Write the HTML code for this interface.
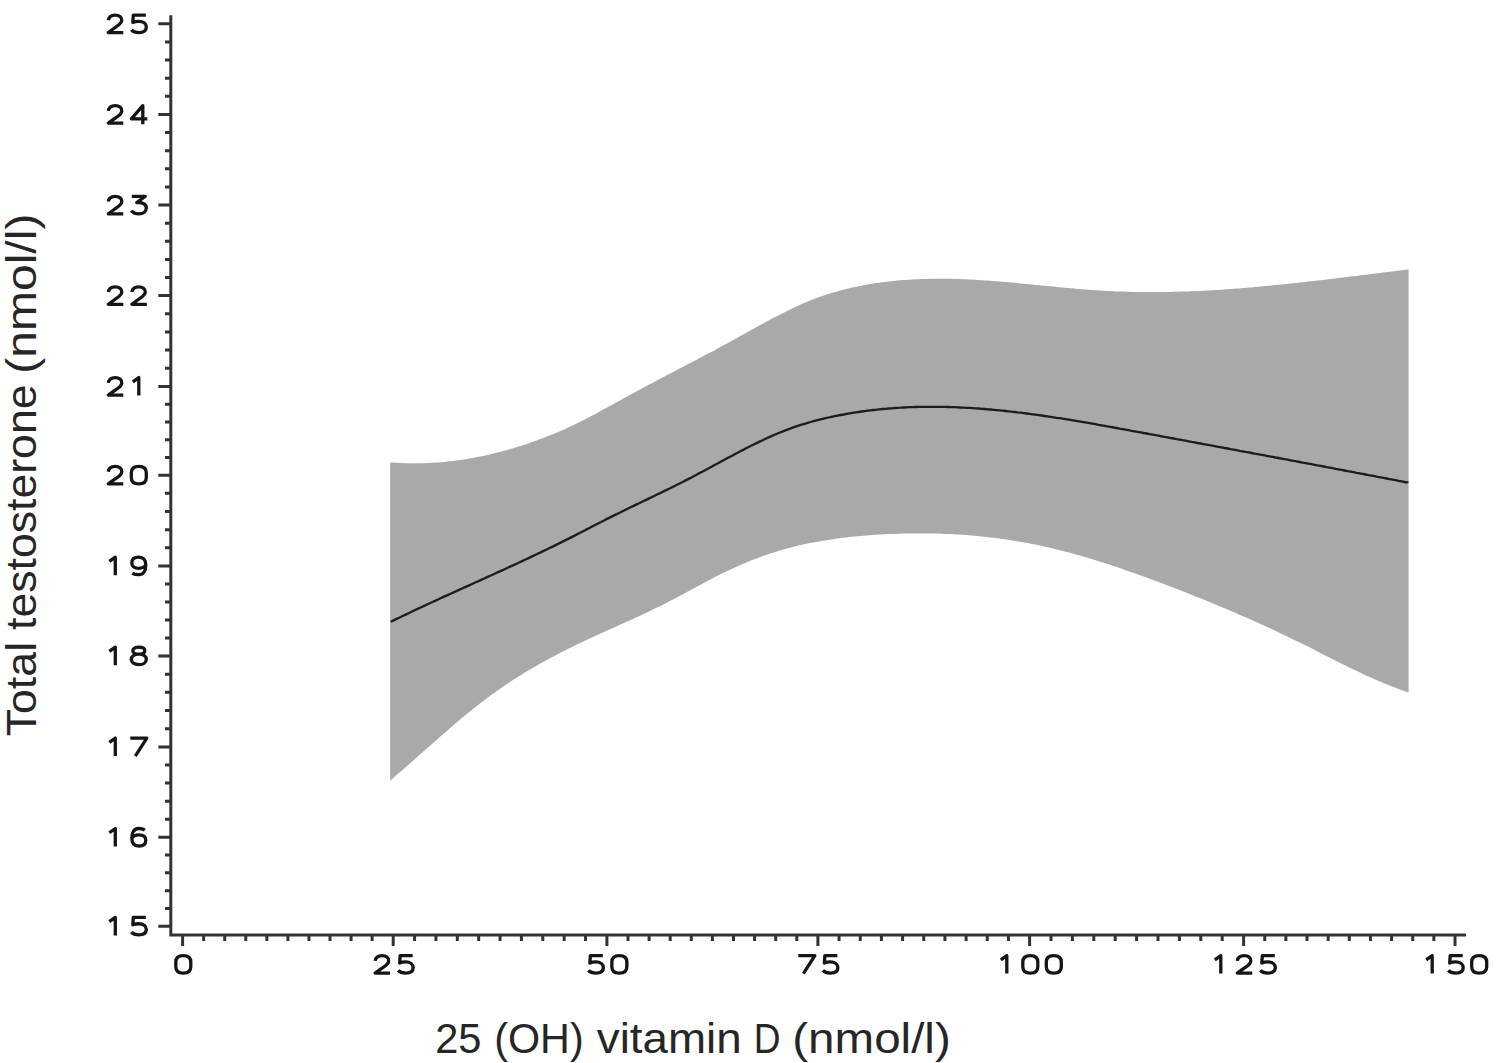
<!DOCTYPE html>
<html><head><meta charset="utf-8"><style>
html,body{margin:0;padding:0;background:#fff;overflow:hidden;}
svg{display:block;}
.lab{font-family:"Liberation Sans",sans-serif;font-size:42.5px;fill:#262626;}
</style></head><body>
<svg width="1503" height="1063" viewBox="0 0 1503 1063">
<rect width="1503" height="1063" fill="#fff"/>
<g>
<path d="M390.2,462.4 L393.2,462.6 L396.2,462.8 L399.2,463.0 L402.2,463.1 L405.2,463.2 L408.2,463.3 L411.2,463.3 L414.2,463.3 L417.2,463.3 L420.2,463.3 L423.2,463.2 L426.2,463.1 L429.2,463.0 L432.2,462.8 L435.2,462.6 L438.2,462.4 L441.2,462.2 L444.2,461.9 L447.2,461.6 L450.2,461.3 L453.2,460.9 L456.2,460.5 L459.2,460.1 L462.2,459.7 L465.2,459.2 L468.2,458.7 L471.2,458.2 L474.2,457.7 L477.2,457.1 L480.2,456.5 L483.2,455.9 L486.2,455.2 L489.2,454.5 L492.2,453.8 L495.2,453.1 L498.2,452.3 L501.2,451.6 L504.2,450.7 L507.2,449.9 L510.2,449.1 L513.2,448.2 L516.2,447.3 L519.2,446.3 L522.2,445.4 L525.2,444.4 L528.2,443.4 L531.2,442.3 L534.2,441.3 L537.2,440.2 L540.2,439.1 L543.2,438.0 L546.2,436.8 L549.2,435.6 L552.2,434.4 L555.2,433.2 L558.2,431.9 L561.2,430.7 L564.2,429.4 L567.2,428.0 L570.2,426.6 L573.2,425.2 L576.2,423.8 L579.2,422.3 L582.2,420.8 L585.2,419.3 L588.2,417.7 L591.2,416.1 L594.2,414.5 L597.2,412.9 L600.2,411.3 L603.2,409.6 L606.2,408.0 L609.2,406.3 L612.2,404.7 L615.2,403.0 L618.2,401.4 L621.2,399.7 L624.2,398.1 L627.2,396.4 L630.2,394.8 L633.2,393.2 L636.2,391.6 L639.2,389.9 L642.2,388.3 L645.2,386.7 L648.2,385.1 L651.2,383.5 L654.2,381.9 L657.2,380.3 L660.2,378.7 L663.2,377.2 L666.2,375.6 L669.2,374.0 L672.2,372.4 L675.2,370.9 L678.2,369.3 L681.2,367.7 L684.2,366.2 L687.2,364.6 L690.2,363.0 L693.2,361.5 L696.2,359.9 L699.2,358.3 L702.2,356.7 L705.2,355.1 L708.2,353.6 L711.2,352.0 L714.2,350.4 L717.2,348.7 L720.2,347.1 L723.2,345.5 L726.2,343.9 L729.2,342.2 L732.2,340.6 L735.2,338.9 L738.2,337.3 L741.2,335.6 L744.2,333.9 L747.2,332.3 L750.2,330.6 L753.2,328.9 L756.2,327.3 L759.2,325.6 L762.2,324.0 L765.2,322.3 L768.2,320.7 L771.2,319.1 L774.2,317.5 L777.2,315.9 L780.2,314.4 L783.2,312.9 L786.2,311.4 L789.2,309.9 L792.2,308.5 L795.2,307.0 L798.2,305.7 L801.2,304.3 L804.2,303.0 L807.2,301.7 L810.2,300.5 L813.2,299.3 L816.2,298.2 L819.2,297.1 L822.2,296.0 L825.2,295.0 L828.2,294.0 L831.2,293.1 L834.2,292.2 L837.2,291.4 L840.2,290.5 L843.2,289.7 L846.2,289.0 L849.2,288.3 L852.2,287.6 L855.2,286.9 L858.2,286.3 L861.2,285.7 L864.2,285.1 L867.2,284.6 L870.2,284.1 L873.2,283.6 L876.2,283.1 L879.2,282.7 L882.2,282.3 L885.2,281.9 L888.2,281.5 L891.2,281.2 L894.2,280.9 L897.2,280.6 L900.2,280.3 L903.2,280.1 L906.2,279.9 L909.2,279.7 L912.2,279.5 L915.2,279.3 L918.2,279.2 L921.2,279.0 L924.2,278.9 L927.2,278.9 L930.2,278.8 L933.2,278.7 L936.2,278.7 L939.2,278.7 L942.2,278.7 L945.2,278.7 L948.2,278.8 L951.2,278.8 L954.2,278.9 L957.2,279.0 L960.2,279.1 L963.2,279.2 L966.2,279.3 L969.2,279.5 L972.2,279.6 L975.2,279.8 L978.2,280.0 L981.2,280.2 L984.2,280.4 L987.2,280.6 L990.2,280.8 L993.2,281.0 L996.2,281.3 L999.2,281.5 L1002.2,281.7 L1005.2,282.0 L1008.2,282.3 L1011.2,282.5 L1014.2,282.8 L1017.2,283.1 L1020.2,283.4 L1023.2,283.7 L1026.2,284.0 L1029.2,284.3 L1032.2,284.6 L1035.2,284.9 L1038.2,285.2 L1041.2,285.5 L1044.2,285.8 L1047.2,286.1 L1050.2,286.3 L1053.2,286.6 L1056.2,286.9 L1059.2,287.2 L1062.2,287.5 L1065.2,287.8 L1068.2,288.1 L1071.2,288.3 L1074.2,288.6 L1077.2,288.9 L1080.2,289.1 L1083.2,289.3 L1086.2,289.6 L1089.2,289.8 L1092.2,290.0 L1095.2,290.2 L1098.2,290.4 L1101.2,290.6 L1104.2,290.8 L1107.2,291.0 L1110.2,291.1 L1113.2,291.2 L1116.2,291.4 L1119.2,291.5 L1122.2,291.6 L1125.2,291.7 L1128.2,291.8 L1131.2,291.9 L1134.2,291.9 L1137.2,292.0 L1140.2,292.0 L1143.2,292.0 L1146.2,292.1 L1149.2,292.1 L1152.2,292.1 L1155.2,292.1 L1158.2,292.1 L1161.2,292.0 L1164.2,292.0 L1167.2,291.9 L1170.2,291.9 L1173.2,291.8 L1176.2,291.8 L1179.2,291.7 L1182.2,291.6 L1185.2,291.5 L1188.2,291.4 L1191.2,291.3 L1194.2,291.1 L1197.2,291.0 L1200.2,290.9 L1203.2,290.7 L1206.2,290.6 L1209.2,290.4 L1212.2,290.2 L1215.2,290.0 L1218.2,289.9 L1221.2,289.7 L1224.2,289.5 L1227.2,289.3 L1230.2,289.1 L1233.2,288.8 L1236.2,288.6 L1239.2,288.4 L1242.2,288.1 L1245.2,287.9 L1248.2,287.6 L1251.2,287.4 L1254.2,287.1 L1257.2,286.9 L1260.2,286.6 L1263.2,286.3 L1266.2,286.0 L1269.2,285.7 L1272.2,285.4 L1275.2,285.1 L1278.2,284.8 L1281.2,284.5 L1284.2,284.2 L1287.2,283.9 L1290.2,283.6 L1293.2,283.3 L1296.2,282.9 L1299.2,282.6 L1302.2,282.3 L1305.2,281.9 L1308.2,281.6 L1311.2,281.3 L1314.2,280.9 L1317.2,280.6 L1320.2,280.2 L1323.2,279.9 L1326.2,279.5 L1329.2,279.2 L1332.2,278.8 L1335.2,278.4 L1338.2,278.1 L1341.2,277.7 L1344.2,277.3 L1347.2,277.0 L1350.2,276.6 L1353.2,276.2 L1356.2,275.9 L1359.2,275.5 L1362.2,275.1 L1365.2,274.8 L1368.2,274.4 L1371.2,274.0 L1374.2,273.7 L1377.2,273.3 L1380.2,272.9 L1383.2,272.5 L1386.2,272.2 L1389.2,271.8 L1392.2,271.4 L1395.2,271.1 L1398.2,270.7 L1401.2,270.3 L1404.2,270.0 L1407.2,269.6 L1408.6,269.4 L1408.6,692.4 L1406.9,691.9 L1403.9,690.9 L1400.9,689.8 L1397.9,688.7 L1394.9,687.6 L1391.9,686.4 L1388.9,685.3 L1385.9,684.1 L1382.9,682.8 L1379.9,681.5 L1376.9,680.3 L1373.9,678.9 L1370.9,677.6 L1367.9,676.2 L1364.9,674.9 L1361.9,673.5 L1358.9,672.1 L1355.9,670.6 L1352.9,669.2 L1349.9,667.7 L1346.9,666.2 L1343.9,664.8 L1340.9,663.3 L1337.9,661.8 L1334.9,660.3 L1331.9,658.8 L1328.9,657.2 L1325.9,655.7 L1322.9,654.2 L1319.9,652.7 L1316.9,651.2 L1313.9,649.6 L1310.9,648.1 L1307.9,646.6 L1304.9,645.1 L1301.9,643.6 L1298.9,642.1 L1295.9,640.7 L1292.9,639.2 L1289.9,637.7 L1286.9,636.3 L1283.9,634.9 L1280.9,633.4 L1277.9,632.0 L1274.9,630.6 L1271.9,629.2 L1268.9,627.8 L1265.9,626.4 L1262.9,625.1 L1259.9,623.7 L1256.9,622.3 L1253.9,621.0 L1250.9,619.6 L1247.9,618.3 L1244.9,617.0 L1241.9,615.7 L1238.9,614.4 L1235.9,613.1 L1232.9,611.8 L1229.9,610.5 L1226.9,609.2 L1223.9,608.0 L1220.9,606.7 L1217.9,605.4 L1214.9,604.2 L1211.9,603.0 L1208.9,601.7 L1205.9,600.5 L1202.9,599.3 L1199.9,598.1 L1196.9,596.9 L1193.9,595.7 L1190.9,594.5 L1187.9,593.3 L1184.9,592.1 L1181.9,590.9 L1178.9,589.8 L1175.9,588.6 L1172.9,587.5 L1169.9,586.3 L1166.9,585.2 L1163.9,584.0 L1160.9,582.9 L1157.9,581.8 L1154.9,580.7 L1151.9,579.6 L1148.9,578.4 L1145.9,577.3 L1142.9,576.3 L1139.9,575.2 L1136.9,574.1 L1133.9,573.0 L1130.9,572.0 L1127.9,570.9 L1124.9,569.9 L1121.9,568.8 L1118.9,567.8 L1115.9,566.8 L1112.9,565.8 L1109.9,564.8 L1106.9,563.8 L1103.9,562.8 L1100.9,561.9 L1097.9,560.9 L1094.9,560.0 L1091.9,559.1 L1088.9,558.2 L1085.9,557.3 L1082.9,556.4 L1079.9,555.6 L1076.9,554.7 L1073.9,553.9 L1070.9,553.0 L1067.9,552.2 L1064.9,551.5 L1061.9,550.7 L1058.9,549.9 L1055.9,549.2 L1052.9,548.5 L1049.9,547.8 L1046.9,547.1 L1043.9,546.4 L1040.9,545.8 L1037.9,545.1 L1034.9,544.5 L1031.9,543.9 L1028.9,543.3 L1025.9,542.8 L1022.9,542.2 L1019.9,541.7 L1016.9,541.2 L1013.9,540.7 L1010.9,540.2 L1007.9,539.8 L1004.9,539.3 L1001.9,538.9 L998.9,538.5 L995.9,538.1 L992.9,537.7 L989.9,537.4 L986.9,537.0 L983.9,536.7 L980.9,536.4 L977.9,536.1 L974.9,535.8 L971.9,535.5 L968.9,535.3 L965.9,535.1 L962.9,534.8 L959.9,534.6 L956.9,534.5 L953.9,534.3 L950.9,534.1 L947.9,534.0 L944.9,533.9 L941.9,533.7 L938.9,533.6 L935.9,533.6 L932.9,533.5 L929.9,533.4 L926.9,533.4 L923.9,533.4 L920.9,533.4 L917.9,533.4 L914.9,533.4 L911.9,533.4 L908.9,533.5 L905.9,533.5 L902.9,533.6 L899.9,533.7 L896.9,533.8 L893.9,533.9 L890.9,534.0 L887.9,534.1 L884.9,534.3 L881.9,534.4 L878.9,534.6 L875.9,534.8 L872.9,535.0 L869.9,535.2 L866.9,535.5 L863.9,535.7 L860.9,535.9 L857.9,536.2 L854.9,536.5 L851.9,536.8 L848.9,537.1 L845.9,537.5 L842.9,537.8 L839.9,538.2 L836.9,538.6 L833.9,539.0 L830.9,539.4 L827.9,539.9 L824.9,540.4 L821.9,540.9 L818.9,541.4 L815.9,541.9 L812.9,542.5 L809.9,543.1 L806.9,543.7 L803.9,544.3 L800.9,545.0 L797.9,545.7 L794.9,546.4 L791.9,547.2 L788.9,548.0 L785.9,548.8 L782.9,549.6 L779.9,550.5 L776.9,551.4 L773.9,552.4 L770.9,553.3 L767.9,554.3 L764.9,555.4 L761.9,556.4 L758.9,557.5 L755.9,558.7 L752.9,559.8 L749.9,561.0 L746.9,562.3 L743.9,563.5 L740.9,564.8 L737.9,566.1 L734.9,567.5 L731.9,568.9 L728.9,570.3 L725.9,571.7 L722.9,573.1 L719.9,574.6 L716.9,576.1 L713.9,577.6 L710.9,579.2 L707.9,580.7 L704.9,582.3 L701.9,583.9 L698.9,585.5 L695.9,587.2 L692.9,588.8 L689.9,590.4 L686.9,592.0 L683.9,593.7 L680.9,595.3 L677.9,596.9 L674.9,598.5 L671.9,600.1 L668.9,601.6 L665.9,603.2 L662.9,604.7 L659.9,606.2 L656.9,607.6 L653.9,609.1 L650.9,610.5 L647.9,612.0 L644.9,613.4 L641.9,614.8 L638.9,616.2 L635.9,617.5 L632.9,618.9 L629.9,620.3 L626.9,621.6 L623.9,623.0 L620.9,624.3 L617.9,625.7 L614.9,627.0 L611.9,628.4 L608.9,629.7 L605.9,631.1 L602.9,632.4 L599.9,633.8 L596.9,635.2 L593.9,636.5 L590.9,637.9 L587.9,639.3 L584.9,640.7 L581.9,642.2 L578.9,643.6 L575.9,645.0 L572.9,646.5 L569.9,648.0 L566.9,649.5 L563.9,651.0 L560.9,652.5 L557.9,654.1 L554.9,655.7 L551.9,657.3 L548.9,658.9 L545.9,660.5 L542.9,662.2 L539.9,663.8 L536.9,665.6 L533.9,667.3 L530.9,669.0 L527.9,670.8 L524.9,672.6 L521.9,674.5 L518.9,676.3 L515.9,678.2 L512.9,680.1 L509.9,682.1 L506.9,684.1 L503.9,686.1 L500.9,688.2 L497.9,690.3 L494.9,692.4 L491.9,694.5 L488.9,696.7 L485.9,699.0 L482.9,701.2 L479.9,703.5 L476.9,705.9 L473.9,708.3 L470.9,710.7 L467.9,713.1 L464.9,715.6 L461.9,718.1 L458.9,720.6 L455.9,723.1 L452.9,725.7 L449.9,728.3 L446.9,730.9 L443.9,733.5 L440.9,736.1 L437.9,738.7 L434.9,741.4 L431.9,744.0 L428.9,746.7 L425.9,749.3 L422.9,752.0 L419.9,754.6 L416.9,757.3 L413.9,759.9 L410.9,762.6 L407.9,765.2 L404.9,767.8 L401.9,770.5 L398.9,773.1 L395.9,775.6 L392.9,778.2 L390.2,780.7 Z" fill="#a9a9a9"/>
<path d="M390.7,621.8 L393.6,620.4 L396.6,618.9 L399.6,617.5 L402.6,616.0 L405.6,614.6 L408.6,613.2 L411.6,611.7 L414.6,610.3 L417.6,608.9 L420.6,607.5 L423.6,606.1 L426.6,604.7 L429.6,603.3 L432.6,602.0 L435.6,600.6 L438.6,599.2 L441.6,597.8 L444.6,596.4 L447.6,595.1 L450.6,593.7 L453.6,592.4 L456.6,591.0 L459.6,589.6 L462.6,588.3 L465.6,586.9 L468.6,585.6 L471.6,584.2 L474.6,582.8 L477.6,581.5 L480.6,580.1 L483.6,578.8 L486.6,577.4 L489.6,576.0 L492.6,574.7 L495.6,573.3 L498.6,571.9 L501.6,570.6 L504.6,569.2 L507.6,567.8 L510.6,566.4 L513.6,565.1 L516.6,563.7 L519.6,562.3 L522.6,560.9 L525.6,559.5 L528.6,558.1 L531.6,556.6 L534.6,555.2 L537.6,553.8 L540.6,552.4 L543.6,550.9 L546.6,549.5 L549.6,548.0 L552.6,546.6 L555.6,545.1 L558.6,543.6 L561.6,542.1 L564.6,540.6 L567.6,539.1 L570.6,537.6 L573.6,536.1 L576.6,534.6 L579.6,533.0 L582.6,531.5 L585.6,529.9 L588.6,528.4 L591.6,526.8 L594.6,525.3 L597.6,523.7 L600.6,522.2 L603.6,520.7 L606.6,519.1 L609.6,517.6 L612.6,516.1 L615.6,514.6 L618.6,513.2 L621.6,511.7 L624.6,510.2 L627.6,508.8 L630.6,507.3 L633.6,505.9 L636.6,504.4 L639.6,503.0 L642.6,501.5 L645.6,500.1 L648.6,498.6 L651.6,497.2 L654.6,495.8 L657.6,494.3 L660.6,492.9 L663.6,491.4 L666.6,489.9 L669.6,488.5 L672.6,487.0 L675.6,485.5 L678.6,484.0 L681.6,482.5 L684.6,480.9 L687.6,479.4 L690.6,477.9 L693.6,476.3 L696.6,474.7 L699.6,473.1 L702.6,471.5 L705.6,469.9 L708.6,468.3 L711.6,466.7 L714.6,465.0 L717.6,463.4 L720.6,461.8 L723.6,460.2 L726.6,458.6 L729.6,457.0 L732.6,455.4 L735.6,453.8 L738.6,452.2 L741.6,450.6 L744.6,449.1 L747.6,447.5 L750.6,446.0 L753.6,444.5 L756.6,443.1 L759.6,441.6 L762.6,440.2 L765.6,438.8 L768.6,437.4 L771.6,436.1 L774.6,434.8 L777.6,433.5 L780.6,432.3 L783.6,431.1 L786.6,429.9 L789.6,428.8 L792.6,427.7 L795.6,426.7 L798.6,425.7 L801.6,424.7 L804.6,423.8 L807.6,422.9 L810.6,422.0 L813.6,421.2 L816.6,420.4 L819.6,419.6 L822.6,418.9 L825.6,418.2 L828.6,417.5 L831.6,416.8 L834.6,416.2 L837.6,415.6 L840.6,415.0 L843.6,414.5 L846.6,413.9 L849.6,413.4 L852.6,412.9 L855.6,412.4 L858.6,412.0 L861.6,411.5 L864.6,411.1 L867.6,410.7 L870.6,410.3 L873.6,410.0 L876.6,409.7 L879.6,409.3 L882.6,409.0 L885.6,408.8 L888.6,408.5 L891.6,408.3 L894.6,408.0 L897.6,407.8 L900.6,407.7 L903.6,407.5 L906.6,407.3 L909.6,407.2 L912.6,407.1 L915.6,407.0 L918.6,406.9 L921.6,406.9 L924.6,406.8 L927.6,406.8 L930.6,406.8 L933.6,406.8 L936.6,406.8 L939.6,406.8 L942.6,406.9 L945.6,406.9 L948.6,407.0 L951.6,407.1 L954.6,407.2 L957.6,407.3 L960.6,407.5 L963.6,407.6 L966.6,407.8 L969.6,407.9 L972.6,408.1 L975.6,408.3 L978.6,408.5 L981.6,408.8 L984.6,409.0 L987.6,409.3 L990.6,409.5 L993.6,409.8 L996.6,410.1 L999.6,410.4 L1002.6,410.7 L1005.6,411.0 L1008.6,411.3 L1011.6,411.7 L1014.6,412.0 L1017.6,412.4 L1020.6,412.7 L1023.6,413.1 L1026.6,413.5 L1029.6,413.9 L1032.6,414.3 L1035.6,414.7 L1038.6,415.1 L1041.6,415.5 L1044.6,416.0 L1047.6,416.4 L1050.6,416.8 L1053.6,417.3 L1056.6,417.8 L1059.6,418.2 L1062.6,418.7 L1065.6,419.2 L1068.6,419.7 L1071.6,420.2 L1074.6,420.7 L1077.6,421.2 L1080.6,421.7 L1083.6,422.2 L1086.6,422.7 L1089.6,423.2 L1092.6,423.7 L1095.6,424.2 L1098.6,424.8 L1101.6,425.3 L1104.6,425.8 L1107.6,426.4 L1110.6,426.9 L1113.6,427.5 L1116.6,428.0 L1119.6,428.6 L1122.6,429.1 L1125.6,429.7 L1128.6,430.2 L1131.6,430.8 L1134.6,431.3 L1137.6,431.9 L1140.6,432.4 L1143.6,433.0 L1146.6,433.5 L1149.6,434.1 L1152.6,434.6 L1155.6,435.2 L1158.6,435.7 L1161.6,436.3 L1164.6,436.9 L1167.6,437.4 L1170.6,438.0 L1173.6,438.5 L1176.6,439.1 L1179.6,439.6 L1182.6,440.2 L1185.6,440.7 L1188.6,441.3 L1191.6,441.9 L1194.6,442.4 L1197.6,443.0 L1200.6,443.5 L1203.6,444.1 L1206.6,444.6 L1209.6,445.2 L1212.6,445.7 L1215.6,446.3 L1218.6,446.9 L1221.6,447.4 L1224.6,448.0 L1227.6,448.5 L1230.6,449.1 L1233.6,449.6 L1236.6,450.2 L1239.6,450.8 L1242.6,451.3 L1245.6,451.9 L1248.6,452.4 L1251.6,453.0 L1254.6,453.6 L1257.6,454.1 L1260.6,454.7 L1263.6,455.2 L1266.6,455.8 L1269.6,456.4 L1272.6,456.9 L1275.6,457.5 L1278.6,458.0 L1281.6,458.6 L1284.6,459.2 L1287.6,459.7 L1290.6,460.3 L1293.6,460.9 L1296.6,461.4 L1299.6,462.0 L1302.6,462.6 L1305.6,463.1 L1308.6,463.7 L1311.6,464.2 L1314.6,464.8 L1317.6,465.4 L1320.6,465.9 L1323.6,466.5 L1326.6,467.1 L1329.6,467.6 L1332.6,468.2 L1335.6,468.8 L1338.6,469.3 L1341.6,469.9 L1344.6,470.5 L1347.6,471.1 L1350.6,471.6 L1353.6,472.2 L1356.6,472.8 L1359.6,473.3 L1362.6,473.9 L1365.6,474.5 L1368.6,475.1 L1371.6,475.6 L1374.6,476.2 L1377.6,476.8 L1380.6,477.3 L1383.6,477.9 L1386.6,478.5 L1389.6,479.1 L1392.6,479.6 L1395.6,480.2 L1398.6,480.8 L1401.6,481.4 L1404.6,482.0 L1407.6,482.5 L1407.6,482.7" fill="none" stroke="#1c1c1c" stroke-width="2.3" stroke-linejoin="round"/>
<path d="M170.8,15.3V935.1H1466" fill="none" stroke="#333" stroke-width="3"/>
<path d="M158.3,23.85H170.8 M165,41.96H170.8 M165,60.07H170.8 M165,78.18H170.8 M165,96.29H170.8 M158.3,114.40H170.8 M165,132.54H170.8 M165,150.68H170.8 M165,168.82H170.8 M165,186.96H170.8 M158.3,205.10H170.8 M165,223.20H170.8 M165,241.30H170.8 M165,259.40H170.8 M165,277.50H170.8 M158.3,295.60H170.8 M165,313.76H170.8 M165,331.92H170.8 M165,350.08H170.8 M165,368.24H170.8 M158.3,386.40H170.8 M165,404.16H170.8 M165,421.92H170.8 M165,439.68H170.8 M165,457.44H170.8 M158.3,475.20H170.8 M165,493.36H170.8 M165,511.52H170.8 M165,529.68H170.8 M165,547.84H170.8 M158.3,566.00H170.8 M165,584.00H170.8 M165,602.00H170.8 M165,620.00H170.8 M165,638.00H170.8 M158.3,656.00H170.8 M165,674.18H170.8 M165,692.36H170.8 M165,710.54H170.8 M165,728.72H170.8 M158.3,746.90H170.8 M165,764.98H170.8 M165,783.06H170.8 M165,801.14H170.8 M165,819.22H170.8 M158.3,837.30H170.8 M165,855.08H170.8 M165,872.86H170.8 M165,890.64H170.8 M165,908.42H170.8 M158.3,926.20H170.8 M182.60,935V946 M203.66,935V941 M224.72,935V941 M245.78,935V941 M266.84,935V941 M287.90,935V941 M308.96,935V941 M330.02,935V941 M351.08,935V941 M372.14,935V941 M393.20,935V946 M414.57,935V941 M435.94,935V941 M457.31,935V941 M478.68,935V941 M500.05,935V941 M521.42,935V941 M542.79,935V941 M564.16,935V941 M585.53,935V941 M606.90,935V946 M628.00,935V941 M649.10,935V941 M670.20,935V941 M691.30,935V941 M712.40,935V941 M733.50,935V941 M754.60,935V941 M775.70,935V941 M796.80,935V941 M817.90,935V946 M839.07,935V941 M860.24,935V941 M881.41,935V941 M902.58,935V941 M923.75,935V941 M944.92,935V941 M966.09,935V941 M987.26,935V941 M1008.43,935V941 M1029.60,935V946 M1051.00,935V941 M1072.40,935V941 M1093.80,935V941 M1115.20,935V941 M1136.60,935V941 M1158.00,935V941 M1179.40,935V941 M1200.80,935V941 M1222.20,935V941 M1243.60,935V946 M1264.74,935V941 M1285.88,935V941 M1307.02,935V941 M1328.16,935V941 M1349.30,935V941 M1370.44,935V941 M1391.58,935V941 M1412.72,935V941 M1433.86,935V941 M1455.00,935V946" fill="none" stroke="#333" stroke-width="3"/>
<g fill="none" stroke="#151515" stroke-width="3.3" stroke-linecap="butt" stroke-linejoin="round">
<path transform="translate(106.80,13.45)" d="M1.50,6.89 C2.00,3.18 4.50,1.59 8.50,1.59 C12.50,1.59 15.00,3.71 15.00,6.89 C15.00,10.07 12.00,11.66 8.00,14.31 L1.50,19.08 H16.50"/><path transform="translate(130.30,13.45)" d="M15.50,1.59 H3.00 L2.50,9.01 C4.00,8.27 6.00,7.95 8.50,7.95 C13.00,7.95 16.00,10.07 16.00,13.78 C16.00,17.49 13.00,19.08 8.50,19.08 C5.00,19.08 2.50,18.02 1.00,16.43"/><path transform="translate(106.80,104.00)" d="M1.50,6.89 C2.00,3.18 4.50,1.59 8.50,1.59 C12.50,1.59 15.00,3.71 15.00,6.89 C15.00,10.07 12.00,11.66 8.00,14.31 L1.50,19.08 H16.50"/><path transform="translate(130.30,104.00)" d="M12.50,20.14 V1.59 L1.00,14.84 H17.00"/><path transform="translate(106.80,194.70)" d="M1.50,6.89 C2.00,3.18 4.50,1.59 8.50,1.59 C12.50,1.59 15.00,3.71 15.00,6.89 C15.00,10.07 12.00,11.66 8.00,14.31 L1.50,19.08 H16.50"/><path transform="translate(130.30,194.70)" d="M1.50,1.59 H15.00 L6.50,7.95 C12.50,7.42 16.00,9.54 16.00,13.25 C16.00,16.96 13.00,19.08 8.50,19.08 C5.00,19.08 2.50,18.02 1.00,15.90"/><path transform="translate(106.80,285.20)" d="M1.50,6.89 C2.00,3.18 4.50,1.59 8.50,1.59 C12.50,1.59 15.00,3.71 15.00,6.89 C15.00,10.07 12.00,11.66 8.00,14.31 L1.50,19.08 H16.50"/><path transform="translate(130.30,285.20)" d="M1.50,6.89 C2.00,3.18 4.50,1.59 8.50,1.59 C12.50,1.59 15.00,3.71 15.00,6.89 C15.00,10.07 12.00,11.66 8.00,14.31 L1.50,19.08 H16.50"/><path transform="translate(106.80,376.00)" d="M1.50,6.89 C2.00,3.18 4.50,1.59 8.50,1.59 C12.50,1.59 15.00,3.71 15.00,6.89 C15.00,10.07 12.00,11.66 8.00,14.31 L1.50,19.08 H16.50"/><path transform="translate(130.30,376.00)" d="M2.50,5.83 L8.50,1.59 V19.61"/><path transform="translate(106.80,464.80)" d="M1.50,6.89 C2.00,3.18 4.50,1.59 8.50,1.59 C12.50,1.59 15.00,3.71 15.00,6.89 C15.00,10.07 12.00,11.66 8.00,14.31 L1.50,19.08 H16.50"/><path transform="translate(130.30,464.80)" d="M8.50,1.59 C13.00,1.59 16.00,3.71 16.00,7.95 V12.72 C16.00,16.96 13.00,19.08 8.50,19.08 C4.00,19.08 1.00,16.96 1.00,12.72 V7.95 C1.00,3.71 4.00,1.59 8.50,1.59 Z"/><path transform="translate(106.80,555.60)" d="M2.50,5.83 L8.50,1.59 V19.61"/><path transform="translate(130.30,555.60)" d="M2.00,17.49 C3.50,18.55 6.00,19.08 8.50,19.08 C13.00,19.08 15.50,15.37 15.50,9.54 C15.50,4.24 13.00,1.59 8.50,1.59 C4.00,1.59 1.50,3.71 1.50,7.42 C1.50,10.60 4.00,12.72 8.50,12.72 C12.00,12.72 14.50,11.13 15.50,9.01"/><path transform="translate(106.80,645.60)" d="M2.50,5.83 L8.50,1.59 V19.61"/><path transform="translate(130.30,645.60)" d="M8.50,1.59 C12.00,1.59 14.50,2.97 14.50,5.09 C14.50,7.21 12.00,8.48 8.50,8.48 C5.00,8.48 2.50,7.21 2.50,5.09 C2.50,2.97 5.00,1.59 8.50,1.59 ZM8.50,8.48 C13.00,8.48 16.00,10.60 16.00,13.78 C16.00,16.96 13.00,19.08 8.50,19.08 C4.00,19.08 1.00,16.96 1.00,13.78 C1.00,10.60 4.00,8.48 8.50,8.48 Z"/><path transform="translate(106.80,736.50)" d="M2.50,5.83 L8.50,1.59 V19.61"/><path transform="translate(130.30,736.50)" d="M0.00,1.59 H16.50 L5.00,19.61"/><path transform="translate(106.80,826.90)" d="M2.50,5.83 L8.50,1.59 V19.61"/><path transform="translate(130.30,826.90)" d="M14.50,3.18 C13.00,2.12 11.00,1.59 8.50,1.59 C4.00,1.59 1.50,5.30 1.50,11.13 C1.50,16.43 4.00,19.08 8.50,19.08 C13.00,19.08 15.50,16.96 15.50,13.25 C15.50,10.07 13.00,7.95 8.50,7.95 C5.00,7.95 2.50,9.54 1.50,11.66"/><path transform="translate(106.80,915.80)" d="M2.50,5.83 L8.50,1.59 V19.61"/><path transform="translate(130.30,915.80)" d="M15.50,1.59 H3.00 L2.50,9.01 C4.00,8.27 6.00,7.95 8.50,7.95 C13.00,7.95 16.00,10.07 16.00,13.78 C16.00,17.49 13.00,19.08 8.50,19.08 C5.00,19.08 2.50,18.02 1.00,16.43"/><path transform="translate(174.80,954.00)" d="M8.50,1.59 C13.00,1.59 16.00,3.71 16.00,7.95 V12.72 C16.00,16.96 13.00,19.08 8.50,19.08 C4.00,19.08 1.00,16.96 1.00,12.72 V7.95 C1.00,3.71 4.00,1.59 8.50,1.59 Z"/><path transform="translate(373.65,954.00)" d="M1.50,6.89 C2.00,3.18 4.50,1.59 8.50,1.59 C12.50,1.59 15.00,3.71 15.00,6.89 C15.00,10.07 12.00,11.66 8.00,14.31 L1.50,19.08 H16.50"/><path transform="translate(397.15,954.00)" d="M15.50,1.59 H3.00 L2.50,9.01 C4.00,8.27 6.00,7.95 8.50,7.95 C13.00,7.95 16.00,10.07 16.00,13.78 C16.00,17.49 13.00,19.08 8.50,19.08 C5.00,19.08 2.50,18.02 1.00,16.43"/><path transform="translate(587.35,954.00)" d="M15.50,1.59 H3.00 L2.50,9.01 C4.00,8.27 6.00,7.95 8.50,7.95 C13.00,7.95 16.00,10.07 16.00,13.78 C16.00,17.49 13.00,19.08 8.50,19.08 C5.00,19.08 2.50,18.02 1.00,16.43"/><path transform="translate(610.85,954.00)" d="M8.50,1.59 C13.00,1.59 16.00,3.71 16.00,7.95 V12.72 C16.00,16.96 13.00,19.08 8.50,19.08 C4.00,19.08 1.00,16.96 1.00,12.72 V7.95 C1.00,3.71 4.00,1.59 8.50,1.59 Z"/><path transform="translate(798.35,954.00)" d="M0.00,1.59 H16.50 L5.00,19.61"/><path transform="translate(821.85,954.00)" d="M15.50,1.59 H3.00 L2.50,9.01 C4.00,8.27 6.00,7.95 8.50,7.95 C13.00,7.95 16.00,10.07 16.00,13.78 C16.00,17.49 13.00,19.08 8.50,19.08 C5.00,19.08 2.50,18.02 1.00,16.43"/><path transform="translate(998.30,954.00)" d="M2.50,5.83 L8.50,1.59 V19.61"/><path transform="translate(1021.80,954.00)" d="M8.50,1.59 C13.00,1.59 16.00,3.71 16.00,7.95 V12.72 C16.00,16.96 13.00,19.08 8.50,19.08 C4.00,19.08 1.00,16.96 1.00,12.72 V7.95 C1.00,3.71 4.00,1.59 8.50,1.59 Z"/><path transform="translate(1045.30,954.00)" d="M8.50,1.59 C13.00,1.59 16.00,3.71 16.00,7.95 V12.72 C16.00,16.96 13.00,19.08 8.50,19.08 C4.00,19.08 1.00,16.96 1.00,12.72 V7.95 C1.00,3.71 4.00,1.59 8.50,1.59 Z"/><path transform="translate(1212.30,954.00)" d="M2.50,5.83 L8.50,1.59 V19.61"/><path transform="translate(1235.80,954.00)" d="M1.50,6.89 C2.00,3.18 4.50,1.59 8.50,1.59 C12.50,1.59 15.00,3.71 15.00,6.89 C15.00,10.07 12.00,11.66 8.00,14.31 L1.50,19.08 H16.50"/><path transform="translate(1259.30,954.00)" d="M15.50,1.59 H3.00 L2.50,9.01 C4.00,8.27 6.00,7.95 8.50,7.95 C13.00,7.95 16.00,10.07 16.00,13.78 C16.00,17.49 13.00,19.08 8.50,19.08 C5.00,19.08 2.50,18.02 1.00,16.43"/><path transform="translate(1423.70,954.00)" d="M2.50,5.83 L8.50,1.59 V19.61"/><path transform="translate(1447.20,954.00)" d="M15.50,1.59 H3.00 L2.50,9.01 C4.00,8.27 6.00,7.95 8.50,7.95 C13.00,7.95 16.00,10.07 16.00,13.78 C16.00,17.49 13.00,19.08 8.50,19.08 C5.00,19.08 2.50,18.02 1.00,16.43"/><path transform="translate(1470.70,954.00)" d="M8.50,1.59 C13.00,1.59 16.00,3.71 16.00,7.95 V12.72 C16.00,16.96 13.00,19.08 8.50,19.08 C4.00,19.08 1.00,16.96 1.00,12.72 V7.95 C1.00,3.71 4.00,1.59 8.50,1.59 Z"/>
</g>
<text class="lab" transform="translate(435.14,1053.30) scale(0.9795,1)">25</text>
<text class="lab" transform="translate(494.29,1053.30) scale(0.9713,1)">(OH)</text>
<text class="lab" transform="translate(596.80,1053.30) scale(1.0758,1)">vitamin</text>
<text class="lab" transform="translate(753.78,1053.30) scale(0.8731,1)">D</text>
<text class="lab" transform="translate(792.24,1053.30) scale(1.1191,1)">(nmol/l)</text>
<text class="lab" transform="translate(35.70,736.35) rotate(-90) scale(1.0523,1)">Total</text>
<text class="lab" transform="translate(35.70,629.95) rotate(-90) scale(1.0498,1)">testosterone</text>
<text class="lab" transform="translate(35.70,373.79) rotate(-90) scale(1.1309,1)">(nmol/l)</text>

</g>
</svg>
</body></html>
